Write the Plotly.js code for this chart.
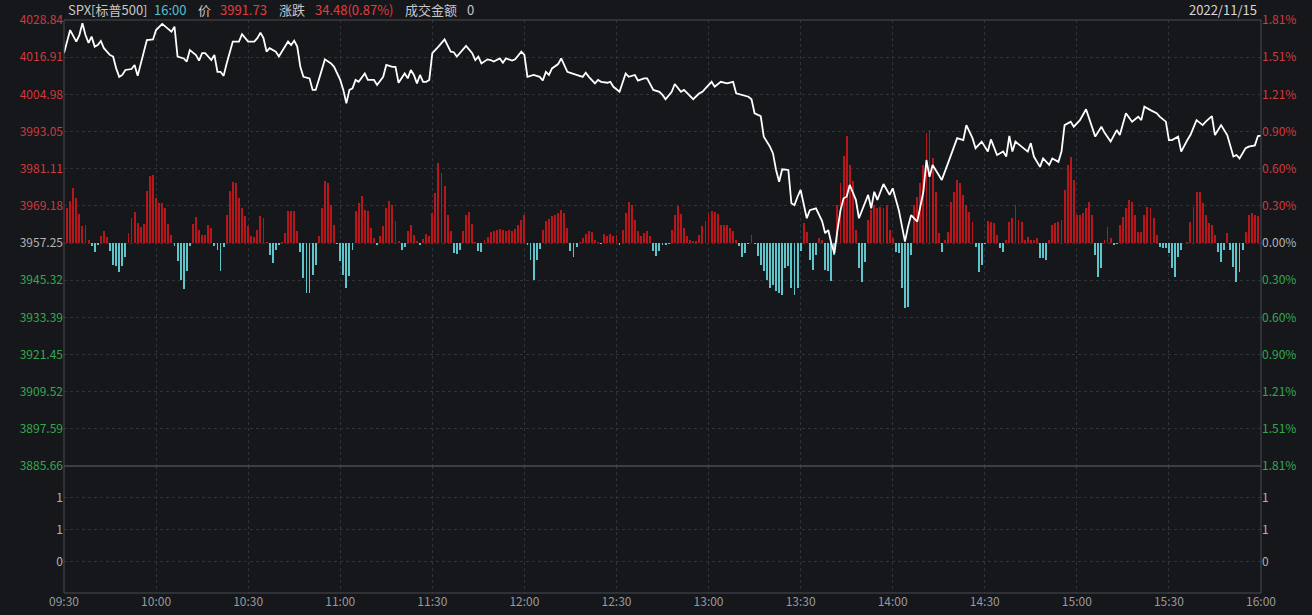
<!DOCTYPE html>
<html>
<head>
<meta charset="utf-8">
<script src="https://cdn.plot.ly/plotly-3.0.1.min.js"></script>
<style>
html,body{margin:0;padding:0;background:#16171b;}
#chart{width:1312px;height:615px;}
</style>
</head>
<body>
<div id="chart"></div>
<script>
// ---------- data ----------
const prevClose = 3957.25;
const timeTicks = [0,30,60,90,120,150,180,210,240,270,300,330,360,390];
const timeLabels = ["09:30","10:00","10:30","11:00","11:30","12:00","12:30","13:00","13:30","14:00","14:30","15:00","15:30","16:00"];
const priceTicks = [3885.66,3897.59,3909.52,3921.45,3933.39,3945.32,3957.25,3969.18,3981.11,3993.05,4004.98,4016.91,4028.84];
const volTicks = [0,1,2];
const volLabels = ["0","1","1"];

// minutes since 09:30 and index price
const lineMin = [0,2,4,5,6,7,8,9,10,11,12,13,15,16,17,18,19,20,22,23,24,25,27,29,30,32,33,35,36,37,39,40,41,43,44,45,46,48,49,50,51,52,53,54,55,57,58,60,62,63,64,65,66,67,69,70,72,73,74,75,76,77,78,80,81,82,83,85,87,88,90,91,92,93,94,95,96,98,99,101,102,104,105,107,108,109,111,112,113,114,115,116,117,118,119,120,122,124,126,127,128,130,131,133,134,135,136,138,139,140,142,143,144,146,147,149,150,151,153,155,156,157,158,159,161,162,163,164,165,167,169,170,171,173,174,175,177,178,179,181,183,184,186,187,189,190,192,194,195,196,198,199,201,202,203,205,207,208,209,211,212,214,216,218,219,221,223,224,225,227,228,230,231,232,233,234,236,237,238,239,240,242,243,245,247,248,249,250,251,252,253,254,255,256,258,259,260,262,263,264,265,267,269,270,272,273,274,275,276,278,280,281,282,283,285,286,288,289,291,293,294,296,297,299,301,302,304,306,307,308,309,310,312,314,315,316,318,319,321,322,324,325,326,328,329,331,333,334,336,338,339,341,343,344,346,348,350,351,352,354,356,357,359,360,361,363,364,366,367,369,371,372,374,375,377,379,381,382,383,385,386,388,389,390];
const linePrice = [4018.2,4025.6,4021.9,4024.0,4027.8,4024.0,4021.5,4023.5,4020.3,4020.8,4022.1,4019.8,4017.6,4017.1,4013.3,4010.6,4011.2,4012.8,4013.1,4014.4,4010.9,4014.9,4022.4,4022.6,4025.6,4027.6,4026.7,4025.1,4026.7,4017.1,4016.5,4015.5,4019.2,4017.6,4015.8,4018.2,4018.2,4016.0,4017.6,4012.2,4012.2,4010.9,4014.9,4018.7,4021.9,4021.9,4024.3,4021.9,4021.9,4023.0,4024.8,4023.0,4018.7,4019.8,4018.7,4017.1,4020.3,4021.9,4020.8,4022.2,4020.3,4013.8,4010.6,4010.1,4006.4,4006.4,4009.6,4016.2,4014.9,4013.8,4009.6,4006.4,4002.1,4006.4,4006.9,4009.6,4009.0,4011.7,4009.6,4009.6,4008.0,4010.6,4014.4,4013.8,4013.8,4008.7,4011.7,4010.1,4012.8,4011.2,4008.5,4011.2,4009.0,4009.0,4009.6,4018.2,4020.3,4022.6,4018.7,4018.5,4017.1,4019.2,4020.5,4018.2,4016.0,4017.1,4014.9,4016.2,4016.0,4015.5,4016.5,4015.1,4016.5,4015.8,4016.2,4018.7,4017.6,4010.6,4011.2,4010.6,4009.4,4012.2,4011.2,4013.3,4014.7,4016.5,4014.4,4012.2,4011.9,4011.2,4010.6,4011.9,4010.6,4008.5,4009.6,4009.0,4008.7,4009.0,4007.4,4005.8,4011.7,4010.6,4011.2,4009.4,4010.1,4010.1,4006.4,4005.8,4004.8,4003.4,4005.8,4008.3,4005.8,4006.4,4005.3,4003.4,4005.3,4005.8,4006.9,4009.0,4007.4,4009.0,4008.5,4009.0,4005.3,4004.8,4004.2,4003.4,3998.9,3998.0,3991.4,3988.2,3986.0,3980.7,3976.9,3980.9,3980.7,3970.0,3969.4,3972.1,3974.3,3965.2,3967.8,3968.4,3964.3,3960.4,3961.4,3957.2,3953.9,3961.4,3967.8,3971.6,3972.1,3975.9,3971.1,3965.2,3967.8,3972.7,3968.4,3973.7,3971.1,3976.2,3972.7,3974.8,3967.8,3963.0,3957.7,3962.5,3966.2,3964.1,3973.7,3983.9,3978.5,3982.3,3979.1,3977.5,3982.8,3985.5,3990.9,3990.3,3995.1,3990.9,3987.7,3989.8,3986.6,3990.5,3985.5,3986.6,3985.0,3991.6,3986.6,3989.8,3988.2,3986.6,3989.3,3985.0,3981.7,3984.4,3982.3,3984.4,3983.3,3986.6,3995.1,3996.2,3994.6,3996.7,4000.2,3997.3,3991.4,3994.6,3992.7,3989.8,3993.5,3991.9,3998.9,3996.2,3997.8,3996.7,4001.0,3999.9,3998.9,3997.8,3996.2,3990.3,3990.3,3991.4,3986.6,3990.3,3991.9,3996.7,3995.1,3996.2,3998.0,3991.9,3995.1,3991.9,3985.0,3985.5,3984.4,3987.7,3988.2,3988.6,3991.6,3991.73];

// strength histogram, one bar per minute from 09:31 (indicator units)
const barVals = [35,42,55,45,29,17,18,3,-3,-9,
-2,7,12,6,-8,-22,-23,-29,-23,-14,
10,25,31,20,16,19,52,67,68,45,
40,40,35,19,8,-3,-18,-37,-46,-28,
-3,19,26,13,8,8,18,15,-3,-7,
-28,-4,28,52,61,60,45,35,27,17,
7,6,13,27,25,1,-12,-20,-7,-2,
1,10,32,32,32,12,-9,-35,-50,-50,
-32,-22,7,35,62,60,38,18,-1,-18,
-32,-45,-33,-7,32,40,47,33,32,15,
5,-2,7,17,35,42,38,22,2,-7,
-4,12,18,8,2,-2,4,9,7,30,
50,80,70,57,28,12,-10,-11,-7,12,
28,31,19,1,-8,-9,3,6,11,12,
13,14,13,12,13,12,14,18,23,28,
-2,-17,-37,-17,-6,13,22,24,27,28,
30,33,30,15,-8,-14,-4,1,5,9,
12,11,3,1,-1,9,7,9,7,8,
-2,13,30,41,38,23,12,7,10,12,
7,-8,-13,-8,-2,-2,-1,13,28,37,
29,15,7,3,2,2,8,17,22,30,
32,31,29,18,18,18,15,12,3,-3,
-14,-10,-1,8,-1,-13,-22,-28,-37,-45,
-42,-48,-50,-52,-25,-23,-45,-52,-45,-8,
20,11,-17,-27,-12,5,3,-27,-28,-38,
-12,38,60,87,107,78,62,13,-25,-39,
-19,23,33,38,35,36,35,38,13,5,
-9,-10,-45,-65,-64,-12,38,46,60,78,
110,113,85,51,10,-9,3,11,41,51,
63,60,48,38,31,21,-4,-29,-22,-1,
22,21,20,8,-5,-9,3,21,25,38,
23,21,3,6,3,3,5,-15,-15,-17,
3,18,20,21,23,53,78,86,63,28,
28,30,35,41,28,-12,-34,-25,3,16,
5,-2,-1,18,26,35,43,41,28,11,
11,28,36,35,25,8,-4,-5,-5,-10,
-25,-34,-14,-7,0,1,21,36,51,51,
40,28,20,18,8,-9,-19,-7,10,-7,
-24,-39,-29,-7,11,28,30,28,27];
const barMin = barVals.map((v,i)=>i+1);

// ---------- style ----------
const BG = '#16171b';
const RED = '#d2393c', GREEN = '#33a94f', GRAY = '#b4b4b4';
const GRID = '#30323a', BORDER = '#4a4d55';
const FONT = 'Noto Sans CJK SC, Noto Sans, sans-serif';

const priceText = priceTicks.map(v=>{
  const c = v>prevClose+0.001 ? RED : (v<prevClose-0.001 ? GREEN : GRAY);
  return '<span style="color:'+c+'">'+v.toFixed(2)+'</span>';
});
const pctText = priceTicks.map(v=>{
  const p = (v-prevClose)/prevClose*100;
  const c = p>0.001 ? RED : (p<-0.001 ? GREEN : GRAY);
  return '<span style="color:'+c+'">'+Math.abs(p).toFixed(2)+'%</span>';
});

const PL=64, PR=1261, PT=20, PB=593, SPLIT=466;
const splitFrac = (PB-SPLIT)/(PB-PT);
const pxX = px => (px-PL)/(PR-PL);
const headY = 1 + 10/(PB-PT);
const priceRange = [priceTicks[0], priceTicks[priceTicks.length-1]];

const empty = ax => ({type:'scatter', mode:'lines', x:[], y:[], xaxis:'x', yaxis:ax, showlegend:false, hoverinfo:'skip'});

const traces = [
  empty('y'),
  {type:'bar', x:barMin, y:barVals, xaxis:'x', yaxis:'y3', width:0.62,
   marker:{color:barVals.map(v=>v>=0?'#b8161a':'#5ec5cb'), line:{width:0}},
   hoverinfo:'skip', showlegend:false},
  {type:'scatter', mode:'lines', x:lineMin, y:linePrice, xaxis:'x', yaxis:'y4',
   line:{color:'#ffffff', width:1.8}, hoverinfo:'skip', showlegend:false},
  empty('y2'),
  empty('y5')
];

const tf = {size:12, family:FONT};
const layout = {
  width:1312, height:615,
  margin:{l:PL, r:1312-PR, t:PT, b:615-PB, pad:0},
  paper_bgcolor:BG, plot_bgcolor:BG,
  bargap:0, showlegend:false,
  font:{family:FONT, color:GRAY, size:12},
  xaxis:{range:[0,390], anchor:'y2', tickvals:timeTicks, ticktext:timeLabels, ticks:'',
    showgrid:true, gridcolor:GRID, griddash:'dot', gridwidth:1, zeroline:false, showline:false,
    tickfont:{size:12, color:'#9a9a9a', family:FONT}},
  yaxis:{domain:[splitFrac,1], range:priceRange, tickvals:priceTicks, ticktext:priceText, side:'left',
    ticks:'', showgrid:true, gridcolor:GRID, griddash:'dot', gridwidth:1, zeroline:false, showline:false,
    anchor:'x', tickfont:tf},
  yaxis3:{overlaying:'y', domain:[splitFrac,1], range:[-223,223], visible:false, showgrid:false, zeroline:false, anchor:'x'},
  yaxis4:{overlaying:'y', domain:[splitFrac,1], range:priceRange, tickvals:priceTicks, ticktext:pctText, side:'right',
    ticks:'', showgrid:false, zeroline:false, showline:false, anchor:'x', tickfont:tf},
  yaxis2:{domain:[0,splitFrac], range:[-0.97,3], tickvals:volTicks, ticktext:volLabels, ticks:'',
    showgrid:true, gridcolor:GRID, griddash:'dot', zeroline:false, showline:false, anchor:'x',
    tickfont:{size:12, color:GRAY, family:FONT}},
  yaxis5:{overlaying:'y2', domain:[0,splitFrac], side:'right', range:[-0.97,3], tickvals:volTicks, ticktext:volLabels, ticks:'',
    showgrid:false, zeroline:false, showline:false, anchor:'x', tickfont:{size:12, color:GRAY, family:FONT}},
  shapes:[
    {type:'rect', xref:'paper', yref:'paper', x0:0, x1:1, y0:splitFrac, y1:1, line:{color:BORDER, width:1}},
    {type:'rect', xref:'paper', yref:'paper', x0:0, x1:1, y0:0, y1:splitFrac, line:{color:BORDER, width:1}}
  ],
  annotations:[
    ['SPX[标普500]', 66, '#c8c8c8'], ['16:00', 152, '#55bfd2'], ['价', 196, '#c8c8c8'],
    ['3991.73', 218, '#e23b3f'], ['涨跌', 277, '#c8c8c8'], ['34.48(0.87%)', 313, '#e23b3f'],
    ['成交金额', 403, '#c8c8c8'], ['0', 465, '#c8c8c8']
  ].map(a=>({text:a[0], x:pxX(a[1]), y:headY, xref:'paper', yref:'paper', xanchor:'left', yanchor:'middle',
     showarrow:false, font:{size:13, color:a[2], family:FONT}}))
   .concat([{text:'2022/11/15', x:pxX(1259), y:headY, xref:'paper', yref:'paper', xanchor:'right', yanchor:'middle',
     showarrow:false, font:{size:13, color:'#d8d8d8', family:FONT}}])
};

Plotly.newPlot('chart', traces, layout, {displayModeBar:false, staticPlot:true});
</script>
</body>
</html>
